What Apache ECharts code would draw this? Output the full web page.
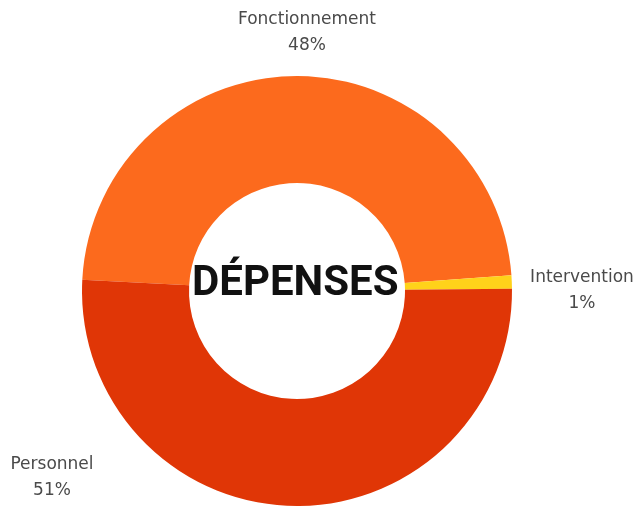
<!DOCTYPE html>
<html>
<head>
<meta charset="utf-8">
<script src="https://cdn.jsdelivr.net/npm/echarts@6/dist/echarts.min.js"></script>
<style>
html,body{margin:0;padding:0;background:#fff;}
#chart{width:638px;height:511px;}
</style>
</head>
<body>
<div id="chart"></div>
<script>
// Data
var categories = ['Fonctionnement', 'Intervention', 'Personnel'];
var values = [48, 1, 51];
var colors = ['#FC6A1D', '#FFD21A', '#E03606'];
var centerTitle = 'DÉPENSES';

// Label placement (layout only)
var labelPos = [
  {x: 307, y: 33},
  {x: 582, y: 291},
  {x: 52, y: 478}
];

var chart = echarts.init(document.getElementById('chart'));
chart.setOption({
  backgroundColor: '#ffffff',
  animation: false,
  graphic: [{
    type: 'text',
    left: 192,
    top: 263,
    style: {
      text: centerTitle,
      font: 'bold 42px Roboto',
      fill: '#111111'
    },
    z: 100
  }],
  series: [{
    type: 'pie',
    center: [297, 291],
    radius: [108, 215],
    startAngle: 177,
    clockwise: true,
    silent: true,
    data: categories.map(function (c, i) {
      return { name: c, value: values[i], itemStyle: { color: colors[i] } };
    }),
    label: {
      show: true,
      position: 'outside',
      formatter: '{b}\n{c}%',
      fontFamily: 'DejaVu Sans',
      fontSize: 17,
      lineHeight: 26,
      color: '#4a4a4a',
      align: 'center',
      overflow: 'none',
      width: 200
    },
    labelLine: { show: false },
    labelLayout: function (params) {
      var p = labelPos[params.dataIndex];
      return { x: p.x, y: p.y, align: 'center', verticalAlign: 'middle' };
    }
  }]
});
</script>
</body>
</html>
